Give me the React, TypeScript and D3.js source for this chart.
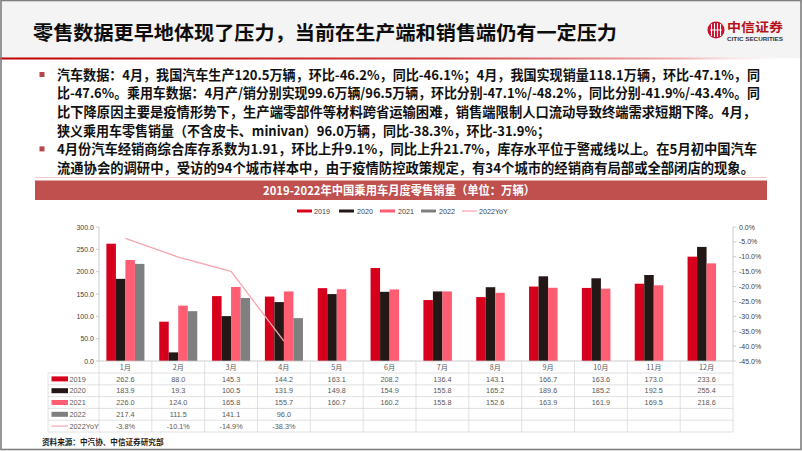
import React from "react";
import * as d3 from "d3";

const months = ["1月", "2月", "3月", "4月", "5月", "6月", "7月", "8月", "9月", "10月", "11月", "12月"];
const seriesNames = ["2019", "2020", "2021", "2022"];
const s2019 = [262.6, 88.0, 145.3, 144.2, 163.1, 208.2, 136.4, 143.1, 166.7, 163.6, 173.0, 233.6];
const s2020 = [183.9, 19.3, 100.5, 131.9, 149.8, 154.9, 155.8, 165.2, 189.6, 185.2, 192.5, 255.4];
const s2021 = [226.0, 124.0, 165.8, 155.7, 160.7, 160.2, 155.8, 152.6, 163.9, 161.9, 169.5, 218.6];
const s2022 = [217.4, 111.5, 141.1, 96.0];
const yoy2022 = [-3.8, -10.1, -14.9, -38.3];
const leftTicks = [0, 50, 100, 150, 200, 250, 300];
const rightTicks = [0, -5, -10, -15, -20, -25, -30, -35, -40, -45];

const pageTitle = "零售数据更早地体现了压力，当前在生产端和销售端仍有一定压力";
const chartTitle = "2019-2022年中国乘用车月度零售销量（单位：万辆）";
const sourceText = "资料来源：中汽协、中信证券研究部";
const para1 = [
  "汽车数据：4月，我国汽车生产120.5万辆，环比-46.2%，同比-46.1%；4月，我国实现销量118.1万辆，环比-47.1%，同",
  "比-47.6%。乘用车数据：4月产/销分别实现99.6万辆/96.5万辆，环比分别-47.1%/-48.2%，同比分别-41.9%/-43.4%。同",
  "比下降原因主要是疫情形势下，生产端零部件等材料跨省运输困难，销售端限制人口流动导致终端需求短期下降。4月，",
  "狭义乘用车零售销量（不含皮卡、minivan）96.0万辆，同比-38.3%，环比-31.9%；",
];
const para2 = [
  "4月份汽车经销商综合库存系数为1.91，环比上升9.1%，同比上升21.7%，库存水平位于警戒线以上。在5月初中国汽车",
  "流通协会的调研中，受访的94个城市样本中，由于疫情防控政策规定，有34个城市的经销商有局部或全部闭店的现象。",
];

const W = 802;
const H = 451;
const colors: Record<string, string> = {
  "2019": "#d6001c",
  "2020": "#231816",
  "2021": "#ff5d72",
  "2022": "#7f7f7f",
  yoy: "#f6a5af",
};

const CJK = "'Noto Sans CJK SC', 'Noto Sans', sans-serif";
const LAT = "'Liberation Sans', Arial, sans-serif";

export default function App() {
  const plotL = 99;
  const plotR = 733;
  const yTop = 227;
  const yBot = 361;

  const x0 = d3.scaleBand<string>().domain(months).range([plotL, plotR]).padding(0);
  const bw = x0.bandwidth();
  const x1 = d3
    .scaleBand<string>()
    .domain(seriesNames)
    .range([bw * 0.14, bw * 0.86])
    .padding(0);
  const yL = d3.scaleLinear().domain([0, 300]).range([yBot, yTop]);
  const yR = d3.scaleLinear().domain([-45, 0]).range([yBot, yTop]);

  const seriesData: Record<string, number[]> = {
    "2019": s2019,
    "2020": s2020,
    "2021": s2021,
    "2022": s2022,
  };

  const line = d3
    .line<number>()
    .x((_, i) => (x0(months[i]) as number) + bw / 2)
    .y((d) => yR(d));

  // table
  const rowTop = 373;
  const rowH = 11.8;
  const tableRows = [
    { key: "2019", vals: s2019.map((v) => v.toFixed(1)) },
    { key: "2020", vals: s2020.map((v) => v.toFixed(1)) },
    { key: "2021", vals: s2021.map((v) => v.toFixed(1)) },
    { key: "2022", vals: s2022.map((v) => v.toFixed(1)) },
    { key: "2022YoY", vals: yoy2022.map((v) => v.toFixed(1) + "%") },
  ];
  const tableL = 48;
  const tableBottom = rowTop + rowH * tableRows.length;

  const legendItems = [
    { key: "2019", sx: 297, tx: 314 },
    { key: "2020", sx: 339, tx: 357 },
    { key: "2021", sx: 380, tx: 398 },
    { key: "2022", sx: 421, tx: 439 },
    { key: "2022YoY", sx: 462, tx: 479 },
  ];

  const lineYs1 = [75, 93.6, 112.2, 130.8];
  const lineYs2 = [149.4, 168];
  const lens1 = [703, 703, 699, 493];
  const lens2 = [700, 697];

  return (
    <svg
      width={W}
      height={H}
      viewBox={`0 0 ${W} ${H}`}
      style={{ position: "absolute", left: 0, top: 0, background: "#fff" }}
    >
      <defs>
        <linearGradient id="redline" x1="0" x2="1" y1="0" y2="0">
          <stop offset="0" stopColor="#c00000" />
          <stop offset="0.55" stopColor="#d43a3a" />
          <stop offset="0.85" stopColor="#f0b0b0" />
          <stop offset="1" stopColor="#ffffff" stopOpacity="0" />
        </linearGradient>
      </defs>
      <rect x={0} y={0} width={W} height={H} fill="#fff" />
      {/* header */}
      <rect x={0} y={0} width={W} height={58} fill="#f4f4f4" />
      <rect x={0} y={57.5} width={W} height={2} fill="url(#redline)" />
      <text
        x={33}
        y={40}
        fontFamily={CJK}
        fontWeight={700}
        fontSize={19.5}
        fill="#0d0d0d"
        textLength={584}
        lengthAdjust="spacingAndGlyphs"
      >
        {pageTitle}
      </text>
      {/* logo */}
      <g>
        <circle cx={716} cy={30} r={8.5} fill="#c8102e" />
        <path d="M711.5 24 v12 M714.5 23 v14 M717.5 23 v14 M720.5 24 v12" stroke="#fff" strokeWidth={1.1} />
        <path d="M710 30 h12" stroke="#fff" strokeWidth={0.9} />
        <text x={727} y={32} fontFamily={CJK} fontWeight={700} fontSize={12.5} fill="#b5121b" textLength={56} lengthAdjust="spacingAndGlyphs">
          中信证券
        </text>
        <text x={727} y={40.5} fontFamily={LAT} fontWeight={700} fontSize={5} fill="#333" textLength={56} lengthAdjust="spacingAndGlyphs">
          CITIC SECURITIES
        </text>
      </g>

      {/* bullets */}
      {[lineYs1[0], lineYs2[0]].map((y, i) => (
        <rect key={"b" + i} x={39.5} y={y - 3} width={5} height={5} fill="#b5474a" />
      ))}
      {para1.map((t, i) => (
        <text
          key={"p1" + i}
          x={57}
          y={lineYs1[i] + 4.8}
          fontFamily={CJK}
          fontWeight={700}
          fontSize={13.4}
          fill="#111"
          textLength={lens1[i]}
          lengthAdjust="spacingAndGlyphs"
        >
          {t}
        </text>
      ))}
      {para2.map((t, i) => (
        <text
          key={"p2" + i}
          x={57}
          y={lineYs2[i] + 4.8}
          fontFamily={CJK}
          fontWeight={700}
          fontSize={13.4}
          fill="#111"
          textLength={lens2[i]}
          lengthAdjust="spacingAndGlyphs"
        >
          {t}
        </text>
      ))}

      {/* chart title band */}
      <line x1={35} x2={767} y1={177.5} y2={177.5} stroke="#f3c9c9" strokeWidth={1} />
      <rect x={35} y={180.5} width={732} height={19.5} fill="#c0504d" />
      <text
        x={399}
        y={194.5}
        textAnchor="middle"
        fontFamily={CJK}
        fontWeight={700}
        fontSize={12}
        fill="#fff"
        textLength={272}
        lengthAdjust="spacingAndGlyphs"
      >
        {chartTitle}
      </text>

      {/* legend */}
      {legendItems.map((l) => (
        <g key={l.key}>
          {l.key === "2022YoY" ? (
            <line x1={l.sx} x2={l.sx + 15} y1={211} y2={211} stroke={colors.yoy} strokeWidth={1.3} />
          ) : (
            <rect x={l.sx} y={209.5} width={15} height={3} fill={colors[l.key]} />
          )}
          <text x={l.tx} y={213.5} fontFamily={LAT} fontSize={7.2} fill="#404040">
            {l.key}
          </text>
        </g>
      ))}

      {/* bars */}
      {seriesNames.map((s) =>
        seriesData[s].map((v, i) => (
          <rect
            key={s + i}
            x={(x0(months[i]) as number) + (x1(s) as number)}
            y={yL(v)}
            width={x1.bandwidth()}
            height={yBot - yL(v)}
            fill={colors[s]}
          />
        ))
      )}

      {/* yoy line */}
      <path d={line(yoy2022) || ""} fill="none" stroke={colors.yoy} strokeWidth={1.3} />

      {/* left axis */}
      <line x1={plotL} x2={plotL} y1={yTop} y2={yBot} stroke="#bfbfbf" strokeWidth={0.8} />
      {leftTicks.map((t) => (
        <g key={"lt" + t}>
          <line x1={plotL - 3} x2={plotL} y1={yL(t)} y2={yL(t)} stroke="#bfbfbf" strokeWidth={0.8} />
          <text x={plotL - 5} y={yL(t) + 2.5} textAnchor="end" fontFamily={LAT} fontSize={7} fill="#404040">
            {t.toFixed(1)}
          </text>
        </g>
      ))}
      {/* right axis */}
      <line x1={plotR} x2={plotR} y1={yTop} y2={yBot} stroke="#bfbfbf" strokeWidth={0.8} />
      {rightTicks.map((t) => (
        <g key={"rt" + t}>
          <line x1={plotR} x2={plotR + 3} y1={yR(t)} y2={yR(t)} stroke="#bfbfbf" strokeWidth={0.8} />
          <text x={plotR + 6} y={yR(t) + 2.5} fontFamily={LAT} fontSize={7} fill="#404040">
            {(t === 0 ? "0.0" : t.toFixed(1)) + "%"}
          </text>
        </g>
      ))}

      {/* x axis / table */}
      <line x1={plotL} x2={plotR} y1={yBot} y2={yBot} stroke="#bfbfbf" strokeWidth={0.8} />
      {months.map((m) => (
        <text
          key={"m" + m}
          x={(x0(m) as number) + bw / 2}
          y={369.5}
          textAnchor="middle"
          fontFamily={CJK}
          fontSize={7.2}
          fill="#595959"
        >
          {m}
        </text>
      ))}
      {[...months.map((m) => x0(m) as number), plotR].map((xv, i) => (
        <line key={"v" + i} x1={xv} x2={xv} y1={yBot} y2={tableBottom} stroke="#d9d9d9" strokeWidth={0.8} />
      ))}
      <line x1={tableL} x2={tableL} y1={rowTop} y2={tableBottom} stroke="#d9d9d9" strokeWidth={0.8} />
      {d3.range(tableRows.length + 1).map((i) => (
        <line
          key={"h" + i}
          x1={tableL}
          x2={plotR}
          y1={rowTop + i * rowH}
          y2={rowTop + i * rowH}
          stroke="#d9d9d9"
          strokeWidth={0.8}
        />
      ))}
      {tableRows.map((r, ri) => {
        const cy = rowTop + ri * rowH + rowH / 2;
        return (
          <g key={"r" + r.key}>
            {r.key === "2022YoY" ? (
              <line x1={51.5} x2={68} y1={cy} y2={cy} stroke={colors.yoy} strokeWidth={1.2} />
            ) : (
              <rect x={51.5} y={cy - 2.5} width={16.5} height={5} fill={colors[r.key]} />
            )}
            <text x={69.5} y={cy + 2.6} fontFamily={LAT} fontSize={7.3} fill="#595959">
              {r.key}
            </text>
            {r.vals.map((v, i) => (
              <text
                key={i}
                x={(x0(months[i]) as number) + bw / 2}
                y={cy + 2.6}
                textAnchor="middle"
                fontFamily={LAT}
                fontSize={7.3}
                fill="#595959"
              >
                {v}
              </text>
            ))}
          </g>
        );
      })}

      {/* source */}
      <text x={42} y={445} fontFamily={CJK} fontWeight={700} fontSize={7.6} fill="#1a1a1a">
        {sourceText}
      </text>

      {/* frame */}
      <rect x={1} y={0.5} width={W - 2} height={H - 2} fill="none" stroke="#7f7f7f" strokeWidth={1.6} />
    </svg>
  );
}
